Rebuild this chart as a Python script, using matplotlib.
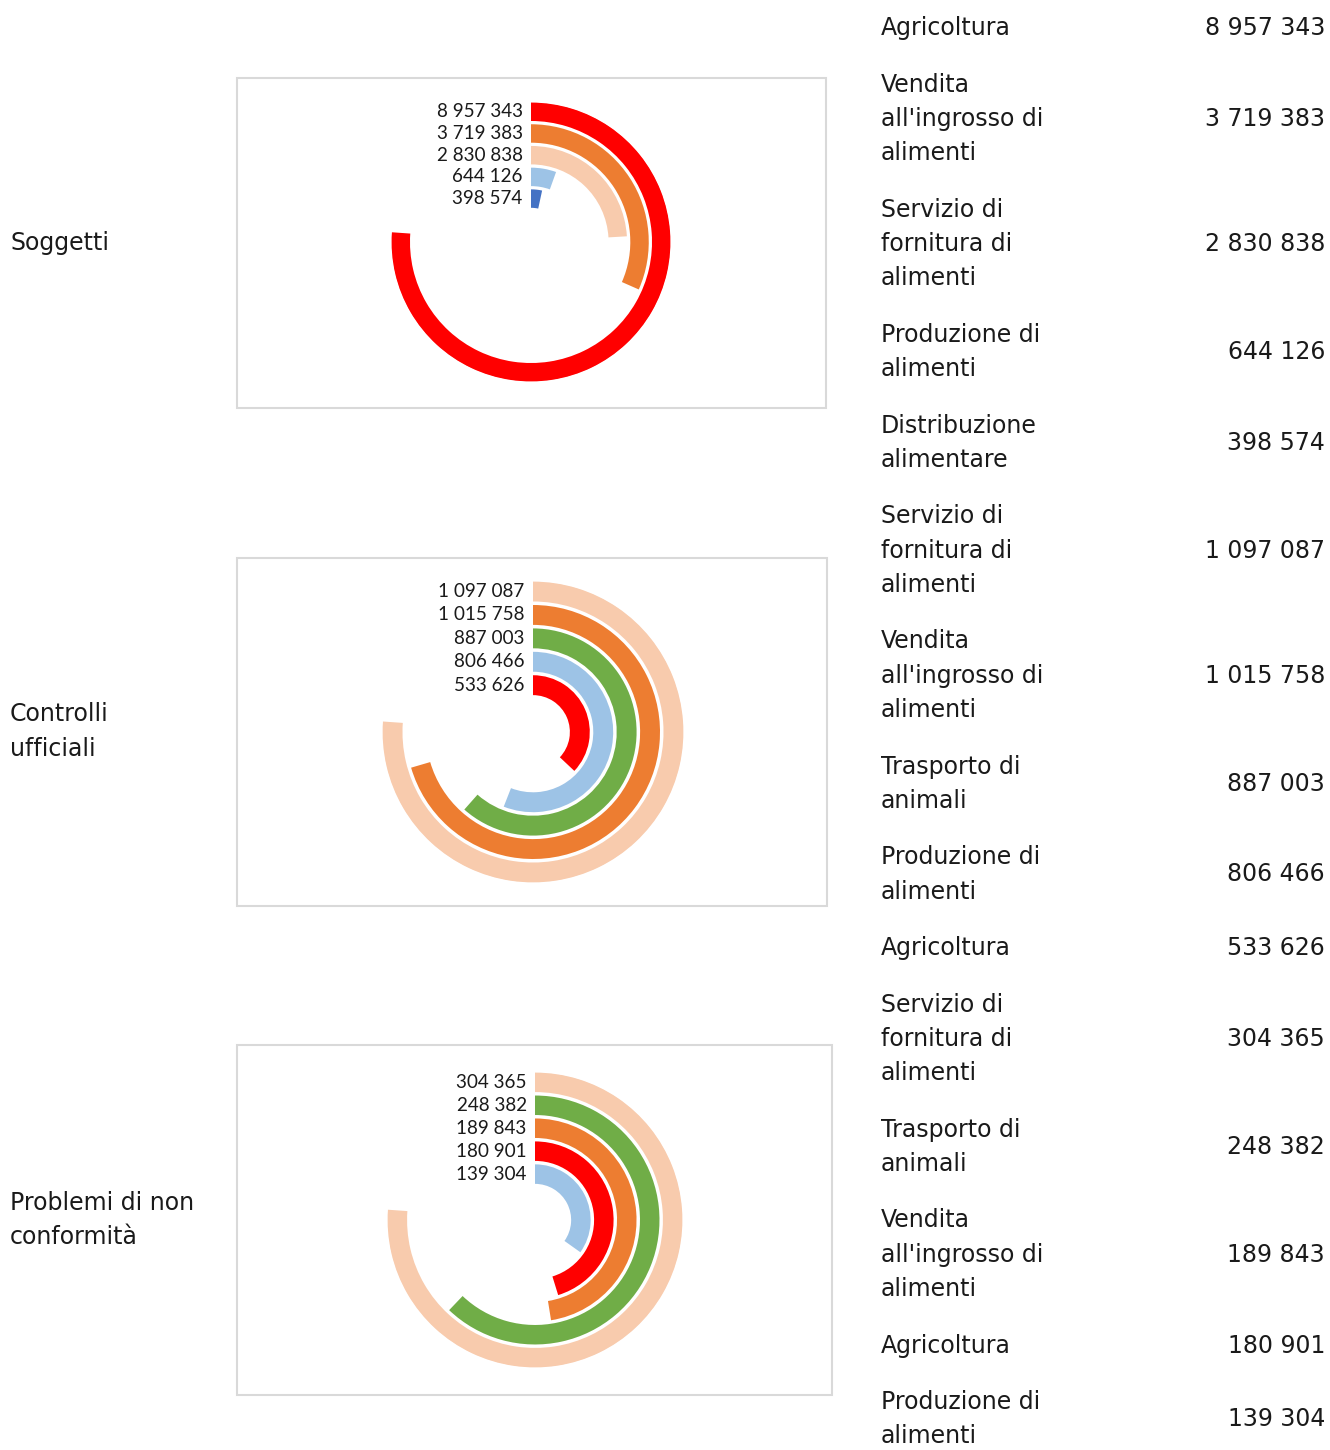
import numpy as np
import matplotlib.pyplot as plt
from matplotlib.patches import Rectangle

# dati (ordine: dal cerchio esterno a quello interno)
TITOLI = ["Soggetti", "Controlli\nufficiali", "Problemi di non\nconformità"]

CAT_SOGGETTI = ["Agricoltura", "Vendita\nall'ingrosso di\nalimenti", "Servizio di\nfornitura di\nalimenti",
                "Produzione di\nalimenti", "Distribuzione\nalimentare"]
VAL_SOGGETTI = [8957343, 3719383, 2830838, 644126, 398574]

CAT_CONTROLLI = ["Servizio di\nfornitura di\nalimenti", "Vendita\nall'ingrosso di\nalimenti", "Trasporto di\nanimali",
                 "Produzione di\nalimenti", "Agricoltura"]
VAL_CONTROLLI = [1097087, 1015758, 887003, 806466, 533626]

CAT_PROBLEMI = ["Servizio di\nfornitura di\nalimenti", "Trasporto di\nanimali", "Vendita\nall'ingrosso di\nalimenti",
                "Agricoltura", "Produzione di\nalimenti"]
VAL_PROBLEMI = [304365, 248382, 189843, 180901, 139304]

COLORI = {"Agricoltura": "#FF0000",
          "Vendita": "#ED7D31",
          "Servizio": "#F8CBAD",
          "Produzione": "#9DC3E6",
          "Distribuzione": "#4472C4",
          "Trasporto": "#70AD47"}

GRUPPI = [(CAT_SOGGETTI, VAL_SOGGETTI), (CAT_CONTROLLI, VAL_CONTROLLI), (CAT_PROBLEMI, VAL_PROBLEMI)]

# layout in pixel (figura 1330x1450)
W, H = 1330, 1450
BOX = [(237, 78, 589, 330), (237, 558, 590, 348), (237, 1045, 595, 350)]
CENTRI = [(531, 242, 140), (533, 732, 151), (535, 1220, 148)]
TITOLO_Y = [243, 731, 1220]
ANGOLO_MAX = np.deg2rad(274)
RIGA = 34.3   # interlinea tabella
SPAZIO = 56.5 # spazio tra le voci

def fmt(v):
    return f"{v:,}".replace(",", " ")

fig = plt.figure(figsize=(13.3, 14.5), dpi=100)
bg = fig.add_axes([0, 0, 1, 1])
bg.set_xlim(0, W)
bg.set_ylim(H, 0)
bg.axis("off")

FONT = "DejaVu Sans"
FS = 17
NERO = "#1a1a1a"

for g, (cat, val) in enumerate(GRUPPI):
    x0, y0, bw, bh = BOX[g]
    bg.add_patch(Rectangle((x0, y0), bw, bh, fill=False, ec="#d9d9d9", lw=1.5))
    righe = TITOLI[g].split("\n")
    for j, riga in enumerate(righe):
        bg.text(10, TITOLO_Y[g] + (j - (len(righe) - 1) / 2) * 35, riga,
                fontsize=FS, family=FONT, va="center", ha="left", color=NERO)

    cx, cy, R = CENTRI[g]
    ax = fig.add_axes([(cx - R) / W, 1 - (cy + R) / H, 2 * R / W, 2 * R / H], projection="polar")
    ax.set_theta_zero_location("N")
    ax.set_theta_direction(-1)
    ax.patch.set_alpha(0)
    n = len(val)
    r = np.arange(n)[::-1]
    larghezze = np.array(val) / max(val) * ANGOLO_MAX
    colori = [COLORI[c.split("\n")[0].split(" ")[0]] for c in cat]
    ax.barh(r, larghezze, left=0, height=0.85, color=colori)
    ax.set_ylim(-2.0, n - 1 + 0.45)
    ax.set_xlim(0, 2 * np.pi)
    ax.axis("off")
    for ri, v in zip(r, val):
        ax.annotate(fmt(v), xy=(0, ri), xytext=(-6, 0), textcoords="offset points",
                    ha="right", va="center", fontsize=13.6, family="Lato", color=NERO)

# tabella a destra
y = 28
for cat, val in GRUPPI:
    for c, v in zip(cat, val):
        righe = c.split("\n")
        for j, riga in enumerate(righe):
            bg.text(881, y + j * RIGA, riga, fontsize=FS, family=FONT, va="center", ha="left", color=NERO)
        bg.text(1325, y + (len(righe) - 1) * RIGA / 2, fmt(v), fontsize=FS, family=FONT,
                va="center", ha="right", color=NERO)
        y += (len(righe) - 1) * RIGA + SPAZIO

fig.savefig("out.png", dpi=100)
